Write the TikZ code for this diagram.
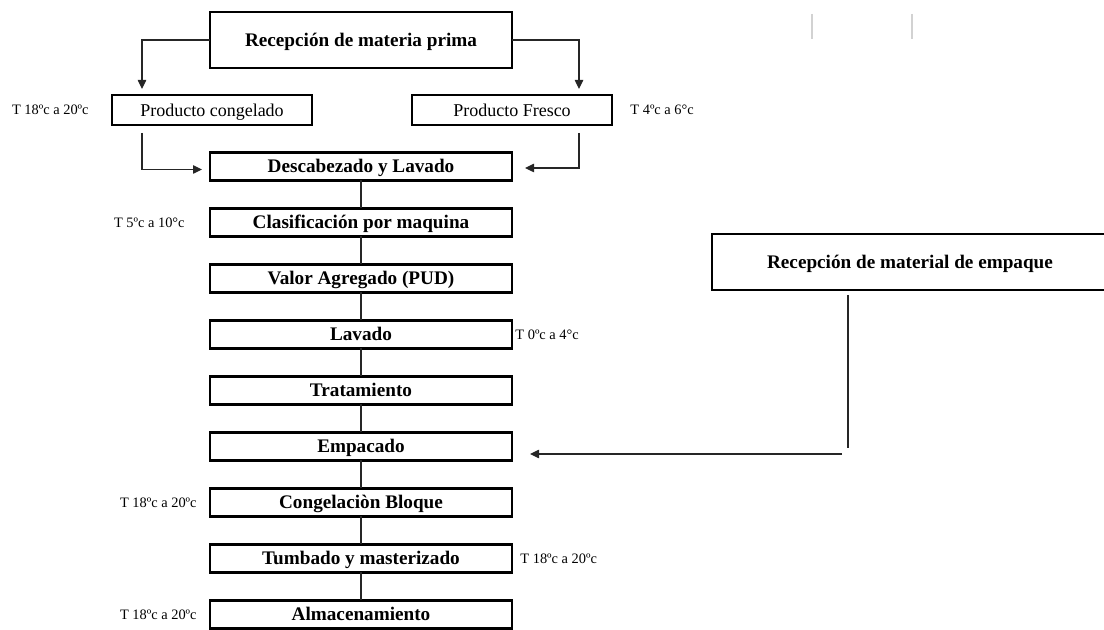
\documentclass[tikz,border=0pt]{standalone}
\usepackage{fontspec}
\setmainfont{Liberation Serif}
\usetikzlibrary{positioning, arrows.meta, calc}

\begin{document}
\begin{tikzpicture}[
  x=0.5pt, y=-0.5pt,
  >={Triangle[length=4.5pt, width=4.2pt]},
  every node/.style={font=\fontsize{9.6pt}{11pt}\selectfont},
  box/.style    = {draw, line width=1.4pt, inner sep=1pt, outer sep=0pt, text height=7.4pt, text depth=1pt, minimum width=151pt, minimum height=14pt, font=\fontsize{9.6pt}{11pt}\selectfont\bfseries},
  bigbox/.style = {box, minimum height=28pt},
  prod/.style   = {box, minimum width=100pt, minimum height=15pt, font=\fontsize{9pt}{11pt}\selectfont},
  lbl/.style    = {inner sep=0pt, font=\fontsize{7.2pt}{8pt}\selectfont},
  line/.style   = {line width=0.6pt, black!85},
  arr/.style    = {line, ->},
]
  \clip (0,0) rectangle (1104,630);
  % Reception of raw material and the two product branches.
  \node[bigbox] (recep) at (361,40)  {Recepción de materia prima};
  \node[prod]   (cong)  at (212,110) {Producto congelado};
  \node[prod]   (fres)  at (512,110) {Producto Fresco};
  \node[lbl, left=11.5pt of cong] (tcong) {T 18ºc a 20ºc};
  \node[lbl, right=9pt of fres]   (tfres) {T 4ºc a 6°c};
  % Main process column.
  \node[box] (desc) at (361,166.5)         {Descabezado y Lavado};
  \node[box, below=14pt of desc]  (clas)  {Clasificación por maquina};
  \node[box, below=14pt of clas]  (valor) {Valor Agregado (PUD)};
  \node[box, below=14pt of valor] (lav)   {Lavado};
  \node[box, below=14pt of lav]   (trat)  {Tratamiento};
  \node[box, below=14pt of trat]  (empac) {Empacado};
  \node[box, below=14pt of empac] (bloq)  {Congelaciòn Bloque};
  \node[box, below=14pt of bloq]  (tumb)  {Tumbado y masterizado};
  \node[box, below=14pt of tumb]  (alm)   {Almacenamiento};
  \foreach \a/\b in {desc/clas, clas/valor, valor/lav, lav/trat,
                     trat/empac, empac/bloq, bloq/tumb, tumb/alm}
     \draw[line] (\a) -- (\b);
  % Temperatures.
  \node[lbl, left=12.5pt of clas] (tclas) {T 5ºc a 10°c};
  \node[lbl, right=1.5pt of lav]  (tlav)  {T 0ºc a 4°c};
  \node[lbl, left=6.5pt of bloq]  (tbloq) {T 18ºc a 20ºc};
  \node[lbl, right=4pt of tumb]   (ttumb) {T 18ºc a 20ºc};
  \node[lbl, left=6.5pt of alm]   (talm)  {T 18ºc a 20ºc};
  % Branch arrows.
  \draw[arr, shorten >=3pt] (recep.west) -| ($(cong.north west)+(30,0)$);
  \draw[arr, shorten >=3pt] (recep.east) -| ($(fres.north east)+(-33,0)$);
  \draw[arr, shorten >=4pt] ($(cong.south west)+(30,8)$) |- ($(desc.west)+(0,3)$);
  \draw[arr, shorten >=6.5pt] ($(fres.south east)+(-33,8)$) |- ($(desc.east)+(0,1.5)$);
  % Packaging material.
  \node[bigbox, minimum width=198pt] (mat) at (910,262) {Recepción de material de empaque};
  \coordinate (turn) at ($(mat.south west)+(130,164)$);
  \draw[line] ($(mat.south west)+(136,5)$) -- ++(0,153);
  \draw[arr, shorten >=9pt] (turn) -- (turn -| empac.east);
  % Faint marks at the top right.
  \draw[gray!35, line width=1pt] (812,14) -- (812,39) (912,14) -- (912,39);
\end{tikzpicture}
\end{document}
